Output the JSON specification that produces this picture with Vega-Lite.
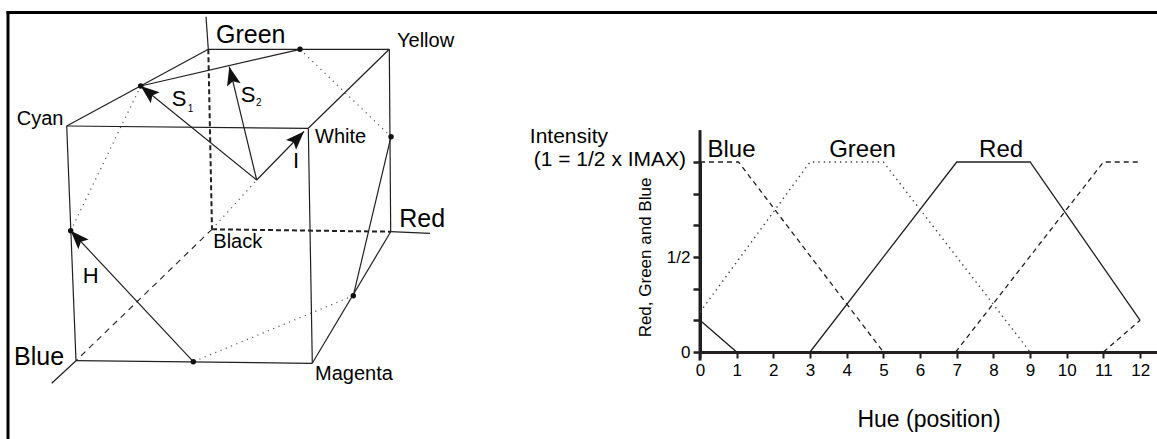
{
  "$schema": "https://vega.github.io/schema/vega-lite/v6.json",
  "padding": 0,
  "background": "white",
  "spacing": 0,
  "bounds": "flush",
  "config": {
    "view": {"stroke": null},
    "font": "Liberation Sans",
    "concat": {"spacing": 0}
  },
  "datasets": {
    "frame": [
      {"x": 6.5, "y": 12.5, "x2": 1160, "y2": 12.5},
      {"x": 8, "y": 11, "x2": 8, "y2": 441}
    ],
    "edges": [
      {"x": 66.7, "y": 126, "x2": 208.3, "y2": 49.3, "style": "solid"},
      {"x": 208.3, "y": 49.3, "x2": 389.3, "y2": 49.3, "style": "solid"},
      {"x": 389.3, "y": 49.3, "x2": 308.3, "y2": 128.3, "style": "solid"},
      {"x": 66.7, "y": 126, "x2": 308.3, "y2": 128.3, "style": "solid"},
      {"x": 66.7, "y": 126, "x2": 76, "y2": 360.7, "style": "solid"},
      {"x": 308.3, "y": 128.3, "x2": 312.3, "y2": 363.3, "style": "solid"},
      {"x": 76, "y": 360.7, "x2": 312.3, "y2": 363.3, "style": "solid"},
      {"x": 389.3, "y": 49.3, "x2": 390.7, "y2": 231.7, "style": "solid"},
      {"x": 390.7, "y": 231.7, "x2": 312.3, "y2": 363.3, "style": "solid"},
      {"x": 390.7, "y": 231.7, "x2": 430, "y2": 233.3, "style": "solid"},
      {"x": 76, "y": 360.7, "x2": 51.7, "y2": 383.3, "style": "solid"},
      {"x": 208.3, "y": 49.3, "x2": 206, "y2": 16.7, "style": "solid"},
      {"x": 140.7, "y": 86, "x2": 300, "y2": 49.3, "style": "solid"},
      {"x": 391, "y": 136.7, "x2": 353.3, "y2": 295.7, "style": "solid"},
      {"x": 193.3, "y": 361.7, "x2": 70.7, "y2": 230.7, "style": "solid"},
      {"x": 256.7, "y": 180, "x2": 140.7, "y2": 86, "style": "solid"},
      {"x": 256.7, "y": 180, "x2": 229.3, "y2": 66.7, "style": "solid"},
      {"x": 256.7, "y": 180, "x2": 304, "y2": 131.5, "style": "solid"},
      {"x": 208.3, "y": 49.3, "x2": 212, "y2": 229.3, "style": "dashed"},
      {"x": 212, "y": 229.3, "x2": 390.7, "y2": 231.7, "style": "dashed"},
      {"x": 212, "y": 229.3, "x2": 76, "y2": 360.7, "style": "thin"},
      {"x": 300, "y": 49.3, "x2": 391, "y2": 136.7, "style": "dotted"},
      {"x": 353.3, "y": 295.7, "x2": 193.3, "y2": 361.7, "style": "dotted"},
      {"x": 70.7, "y": 230.7, "x2": 140.7, "y2": 86, "style": "dotted"},
      {"x": 212, "y": 229.3, "x2": 256.7, "y2": 180, "style": "dotted"}
    ],
    "dots": [
      {"x": 140.7, "y": 86},
      {"x": 300, "y": 49.3},
      {"x": 391, "y": 136.7},
      {"x": 353.3, "y": 295.7},
      {"x": 193.3, "y": 361.7},
      {"x": 70.7, "y": 230.7}
    ],
    "arrows": [
      {"name": "H", "x": 70.7, "y": 230.7},
      {"name": "S1", "x": 140.7, "y": 86},
      {"name": "S2", "x": 229.3, "y": 66.7},
      {"name": "I", "x": 304, "y": 131.5}
    ],
    "labels": [
      {"text": "Green", "x": 216, "y": 42.7, "kind": "big"},
      {"text": "Red", "x": 399.3, "y": 226.7, "kind": "big"},
      {"text": "Blue", "x": 14, "y": 365, "kind": "big"},
      {"text": "H", "x": 82.7, "y": 282.7, "kind": "mid"},
      {"text": "I", "x": 293, "y": 168.3, "kind": "mid"},
      {"text": "S", "x": 171.7, "y": 106, "kind": "mid"},
      {"text": "S", "x": 240.7, "y": 101.7, "kind": "mid"},
      {"text": "Yellow", "x": 397, "y": 46.7, "kind": "small"},
      {"text": "Cyan", "x": 16.7, "y": 125, "kind": "small"},
      {"text": "White", "x": 315, "y": 142.7, "kind": "small"},
      {"text": "Black", "x": 213.3, "y": 248.3, "kind": "small"},
      {"text": "Magenta", "x": 315, "y": 380, "kind": "small"},
      {"text": "1", "x": 187.7, "y": 112.3, "kind": "sub"},
      {"text": "2", "x": 256, "y": 106, "kind": "sub"}
    ],
    "hue": [
      {"series": "Red", "seg": "r", "hue": 0, "value": 0.167},
      {"series": "Red", "seg": "r", "hue": 1, "value": 0},
      {"series": "Red", "seg": "r", "hue": 3, "value": 0},
      {"series": "Red", "seg": "r", "hue": 7, "value": 1},
      {"series": "Red", "seg": "r", "hue": 9, "value": 1},
      {"series": "Red", "seg": "r", "hue": 12, "value": 0.167},
      {"series": "Blue", "seg": "a", "hue": 0, "value": 1},
      {"series": "Blue", "seg": "a", "hue": 1.05, "value": 1},
      {"series": "Blue", "seg": "a", "hue": 5, "value": 0},
      {"series": "Blue", "seg": "b", "hue": 6.97, "value": 0},
      {"series": "Blue", "seg": "b", "hue": 11, "value": 1},
      {"series": "Blue", "seg": "b", "hue": 12, "value": 1},
      {"series": "Blue", "seg": "c", "hue": 11, "value": 0},
      {"series": "Blue", "seg": "c", "hue": 12, "value": 0.167},
      {"series": "Green", "seg": "g", "hue": 0, "value": 0.21},
      {"series": "Green", "seg": "g", "hue": 3, "value": 1},
      {"series": "Green", "seg": "g", "hue": 5, "value": 1},
      {"series": "Green", "seg": "g", "hue": 9, "value": 0}
    ],
    "seriesLabels": [
      {"text": "Blue", "hue": 0.86, "value": 1.026},
      {"text": "Green", "hue": 4.43, "value": 1.026},
      {"text": "Red", "hue": 8.21, "value": 1.026}
    ]
  },
  "hconcat": [
    {
      "width": 700,
      "height": 439,
      "encoding": {
        "x": {"field": "x", "type": "quantitative", "scale": {"domain": [0, 700], "nice": false, "zero": false}, "axis": null},
        "y": {"field": "y", "type": "quantitative", "scale": {"domain": [0, 439], "nice": false, "zero": false, "reverse": true}, "axis": null}
      },
      "layer": [
        {
          "data": {"name": "frame"},
          "mark": {"type": "rule", "color": "#000000", "strokeWidth": 3},
          "encoding": {"x2": {"field": "x2"}, "y2": {"field": "y2"}}
        },
        {
          "data": {"name": "edges"},
          "transform": [{"filter": "datum.style == 'solid'"}],
          "mark": {"type": "rule", "color": "#231f20", "strokeWidth": 1.2},
          "encoding": {"x2": {"field": "x2"}, "y2": {"field": "y2"}}
        },
        {
          "data": {"name": "edges"},
          "transform": [{"filter": "datum.style == 'dashed'"}],
          "mark": {"type": "rule", "color": "#231f20", "strokeWidth": 2, "strokeDash": [5, 3]},
          "encoding": {"x2": {"field": "x2"}, "y2": {"field": "y2"}}
        },
        {
          "data": {"name": "edges"},
          "transform": [{"filter": "datum.style == 'thin'"}],
          "mark": {"type": "rule", "color": "#231f20", "strokeWidth": 1.1, "strokeDash": [6, 5]},
          "encoding": {"x2": {"field": "x2"}, "y2": {"field": "y2"}}
        },
        {
          "data": {"name": "edges"},
          "transform": [{"filter": "datum.style == 'dotted'"}],
          "mark": {"type": "rule", "color": "#555555", "strokeWidth": 1.2, "strokeDash": [1.2, 4.5]},
          "encoding": {"x2": {"field": "x2"}, "y2": {"field": "y2"}}
        },
        {
          "data": {"name": "dots"},
          "mark": {"type": "point", "filled": true, "opacity": 1, "color": "#111111", "size": 30, "shape": "circle"}
        },
        {
          "data": {"name": "arrows"},
          "transform": [{"filter": "datum.name == 'H'"}],
          "mark": {"type": "point", "filled": true, "opacity": 1, "color": "#111111", "size": 350, "shape": "M0,0L0.75,2L0,1.6L-0.75,2Z", "angle": 317}
        },
        {
          "data": {"name": "arrows"},
          "transform": [{"filter": "datum.name == 'S1'"}],
          "mark": {"type": "point", "filled": true, "opacity": 1, "color": "#111111", "size": 350, "shape": "M0,0L0.75,2L0,1.6L-0.75,2Z", "angle": 309}
        },
        {
          "data": {"name": "arrows"},
          "transform": [{"filter": "datum.name == 'S2'"}],
          "mark": {"type": "point", "filled": true, "opacity": 1, "color": "#111111", "size": 350, "shape": "M0,0L0.75,2L0,1.6L-0.75,2Z", "angle": 346}
        },
        {
          "data": {"name": "arrows"},
          "transform": [{"filter": "datum.name == 'I'"}],
          "mark": {"type": "point", "filled": true, "opacity": 1, "color": "#111111", "size": 350, "shape": "M0,0L0.75,2L0,1.6L-0.75,2Z", "angle": 44}
        },
        {
          "data": {"name": "labels"},
          "transform": [{"filter": "datum.kind == 'big'"}],
          "mark": {"type": "text", "align": "left", "baseline": "alphabetic", "fontSize": 25, "color": "#000000"},
          "encoding": {"text": {"field": "text"}}
        },
        {
          "data": {"name": "labels"},
          "transform": [{"filter": "datum.kind == 'mid'"}],
          "mark": {"type": "text", "align": "left", "baseline": "alphabetic", "fontSize": 22, "color": "#000000"},
          "encoding": {"text": {"field": "text"}}
        },
        {
          "data": {"name": "labels"},
          "transform": [{"filter": "datum.kind == 'small'"}],
          "mark": {"type": "text", "align": "left", "baseline": "alphabetic", "fontSize": 20, "color": "#000000"},
          "encoding": {"text": {"field": "text"}}
        },
        {
          "data": {"name": "labels"},
          "transform": [{"filter": "datum.kind == 'sub'"}],
          "mark": {"type": "text", "align": "left", "baseline": "alphabetic", "fontSize": 10, "color": "#000000"},
          "encoding": {"text": {"field": "text"}}
        }
      ]
    },
    {
      "spacing": 0,
      "bounds": "flush",
      "vconcat": [
        {
          "width": 457,
          "height": 162,
          "data": {"values": [{"t": ""}]},
          "mark": {"type": "text"},
          "encoding": {"text": {"field": "t"}}
        },
        {
          "width": 457,
          "height": 190,
          "encoding": {
            "x": {
              "field": "hue",
              "type": "quantitative",
              "scale": {"domain": [0, 12.46], "nice": false, "zero": false},
              "axis": {
                "values": [0, 1, 2, 3, 4, 5, 6, 7, 8, 9, 10, 11, 12],
                "title": "Hue (position)",
                "titleFontSize": 23,
                "titleFontWeight": "normal",
                "titleColor": "#000000",
                "titlePadding": 30,
                "labelFontSize": 17,
                "labelColor": "#000000",
                "labelDx": 9,
                "labelPadding": 4,
                "labelFlush": false,
                "labelOverlap": false,
                "tickSize": 6,
                "tickWidth": 2,
                "tickColor": "#231f20",
                "domainColor": "#231f20",
                "domainWidth": 3,
                "grid": false
              }
            },
            "y": {
              "field": "value",
              "type": "quantitative",
              "scale": {"domain": [0, 1], "nice": false, "zero": false},
              "axis": {
                "values": [0, 0.16667, 0.33333, 0.5, 0.66667, 0.83333, 1],
                "labelExpr": "datum.value == 0 ? '0' : (abs(datum.value - 0.5) < 0.01 ? '1/2' : '')",
                "title": "Red, Green and Blue",
                "titleFontSize": 17,
                "titleFontWeight": "normal",
                "titleColor": "#000000",
                "titlePadding": 12,
                "labelFontSize": 17,
                "labelColor": "#000000",
                "labelPadding": 3,
                "labelFlush": false,
                "labelOverlap": false,
                "tickSize": 7,
                "tickWidth": 2.5,
                "tickColor": "#231f20",
                "domainColor": "#231f20",
                "domainWidth": 3,
                "grid": false
              }
            }
          },
          "layer": [
            {
              "data": {"values": [{"hue": 0, "value": -0.045, "value2": 1.168}]},
              "mark": {"type": "rule", "color": "#231f20", "strokeWidth": 3},
              "encoding": {"y2": {"field": "value2"}}
            },
            {
              "data": {"name": "hue"},
              "transform": [{"filter": "datum.series == 'Red'"}],
              "mark": {"type": "line", "color": "#231f20", "strokeWidth": 1.3},
              "encoding": {"detail": {"field": "seg"}}
            },
            {
              "data": {"name": "hue"},
              "transform": [{"filter": "datum.series == 'Blue'"}],
              "mark": {"type": "line", "color": "#231f20", "strokeWidth": 1.3, "strokeDash": [5, 4]},
              "encoding": {"detail": {"field": "seg"}}
            },
            {
              "data": {"name": "hue"},
              "transform": [{"filter": "datum.series == 'Green'"}],
              "mark": {"type": "line", "color": "#444444", "strokeWidth": 1.4, "strokeDash": [1.4, 4]},
              "encoding": {"detail": {"field": "seg"}}
            },
            {
              "data": {"name": "seriesLabels"},
              "mark": {"type": "text", "align": "center", "baseline": "alphabetic", "fontSize": 24, "color": "#000000"},
              "encoding": {"text": {"field": "text"}}
            },
            {
              "data": {"values": [{"text": "Intensity", "hue": -4.64, "value": 1.1}]},
              "mark": {"type": "text", "align": "left", "baseline": "alphabetic", "fontSize": 21, "color": "#000000"},
              "encoding": {"text": {"field": "text"}}
            },
            {
              "data": {"values": [{"text": "(1 = 1/2 x IMAX)", "hue": -0.38, "value": 0.979}]},
              "mark": {"type": "text", "align": "right", "baseline": "alphabetic", "fontSize": 21, "color": "#000000"},
              "encoding": {"text": {"field": "text"}}
            }
          ]
        }
      ]
    }
  ]
}
